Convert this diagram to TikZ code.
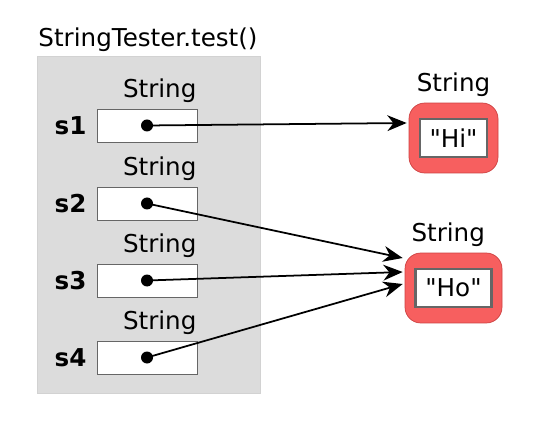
\documentclass[tikz,border=0pt]{standalone}
\usepackage{fontspec}
\setmainfont{DejaVu Sans}[Ligatures=TeXOff]
\usetikzlibrary{positioning,calc,arrows.meta}
\tikzset{>={Stealth[length=11pt,width=9pt,inset=3.5pt]}}
\definecolor{framegray}{RGB}{220,220,220}
\definecolor{objred}{RGB}{247,95,95}
\definecolor{objborder}{RGB}{205,65,65}
\tikzset{
  varbox/.style={draw=gray!80!black, fill=white, minimum width=2cm, minimum height=0.66cm},
  typelbl/.style={font=\fontsize{14}{16}\selectfont},
  varlbl/.style={font=\fontsize{14}{16}\selectfont\bfseries},
  objbox/.style={draw=objborder, fill=objred, rounded corners=9pt, minimum height=1.4cm},
  valbox/.style={draw=gray!80!black, line width=1.2pt, fill=white, font=\fontsize{14}{16}\selectfont, minimum height=0.75cm}
}

\begin{document}
\begin{tikzpicture}[x=0.02cm, y=-0.02cm]
  \useasboundingbox (0,0) rectangle (536,428);
  \fill[framegray, draw=gray!35] (37,56) rectangle (260,393);
  \node[typelbl] (title) at (148,40) {StringTester.test()};
  % variables
  \node[varbox] (s1) at (147,125.5) {};
  \node[varbox] (s2) at (147,203.5) {};
  \node[varbox] (s3) at (147,280.5) {};
  \node[varbox] (s4) at (147,357.5) {};
  \node[typelbl, above=0pt of s1.north east, anchor=south east, xshift=3pt] (t1) {String};
  \node[typelbl, above=0pt of s2.north east, anchor=south east, xshift=3pt] (t2) {String};
  \node[typelbl, above=0pt of s3.north east, anchor=south east, xshift=3pt] (t3) {String};
  \node[typelbl, above=0pt of s4.north east, anchor=south east, xshift=3pt] (t4) {String};
  \node[varlbl, left=0.08cm of s1] (l1) {s1};
  \node[varlbl, left=0.08cm of s2] (l2) {s2};
  \node[varlbl, left=0.08cm of s3] (l3) {s3};
  \node[varlbl, left=0.08cm of s4] (l4) {s4};
  % objects
  \node[objbox, minimum width=1.78cm] (hi) at (453.5,138) {};
  \node[valbox, minimum width=1.34cm] (hival) at (hi.center) {"Hi"};
  \node[typelbl, above=0pt of hi] (thi) {String};
  \node[objbox, minimum width=1.94cm] (ho) at (453.5,288) {};
  \node[valbox, minimum width=1.52cm] (hoval) at (ho.center) {"Ho"};
  \node[typelbl, above=0pt of ho, xshift=-3pt] (tho) {String};
  % references
  \foreach \v in {s1,s2,s3,s4}
    \fill (\v.center) circle (6);
  \draw[->, line width=1pt] (s1.center) -- ($(hi.west)+(-2,-15)$);
  \draw[->, line width=1pt] (s2.center) -- ($(ho.west)+(-2,-30)$);
  \draw[->, line width=1pt] (s3.center) -- ($(ho.west)+(-2,-16)$);
  \draw[->, line width=1pt] (s4.center) -- ($(ho.west)+(-2,-4)$);
\end{tikzpicture}
\end{document}
